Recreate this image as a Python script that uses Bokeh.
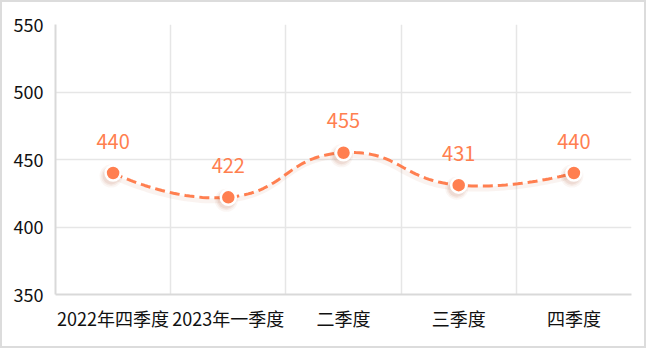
import numpy as np
from bokeh.plotting import figure
from bokeh.models import FixedTicker, ColumnDataSource, LabelSet
from bokeh.core.properties import value
from bokeh.embed import file_html
from bokeh.resources import INLINE

categories = ["2022年四季度", "2023年一季度", "二季度", "三季度", "四季度"]
values = [440, 422, 455, 431, 440]
y_ticks = [350, 400, 450, 500, 550]

COLOR = "#ff7f50"
FONT = "Noto Sans CJK SC"

W, H = 646, 348
p = figure(width=W, height=H, output_backend="svg", toolbar_location=None,
           x_range=(0, len(categories)), y_range=(350, 550),
           min_border_left=53, min_border_right=17, min_border_top=22, min_border_bottom=56,
           styles={"border": "2px solid #dcdcdc"})
p.outline_line_color = None

xs = [i + 0.5 for i in range(len(categories))]

# axes
p.xaxis.ticker = FixedTicker(ticks=xs)
p.xaxis.major_label_overrides = {x: c for x, c in zip(xs, categories)}
p.yaxis.ticker = FixedTicker(ticks=y_ticks)
for ax in (p.xaxis, p.yaxis):
    ax.major_tick_line_color = None
    ax.minor_tick_line_color = None
    ax.major_tick_out = 0
    ax.major_tick_in = 0
    ax.axis_line_color = "#d9d9d9"
    ax.axis_line_width = 2
    ax.major_label_text_font = FONT
    ax.major_label_text_font_size = "18px"
    ax.major_label_text_color = "#111111"
p.xaxis.major_label_standoff = 10
p.yaxis.major_label_standoff = 12

p.xgrid.ticker = FixedTicker(ticks=list(range(len(categories) + 1)))
p.ygrid.ticker = FixedTicker(ticks=y_ticks)
for g in (p.xgrid, p.ygrid):
    g.grid_line_color = "#e6e6e6"
    g.grid_line_width = 1.5

# smooth curve (ECharts-style bezier, smooth=0.5) computed in pixel space
px_per_x = 575.0 / len(categories)
px_per_y = 270.0 / 200.0
P = np.array([[x * px_per_x, v * px_per_y] for x, v in zip(xs, values)])
smooth = 0.5
curve = [P[0]]
cp0 = P[0].copy()
n = len(P)
for k in range(1, n):
    pt = P[k]
    prev = P[k - 1]
    if k >= n - 1:
        ncp0 = pt.copy()
        v = np.zeros(2)
        ratio = 0.5
    else:
        nxt = P[k + 1]
        v = nxt - prev
        l0 = np.linalg.norm(pt - prev)
        l1 = np.linalg.norm(nxt - pt)
        ratio = l1 / (l0 + l1)
        ncp0 = pt - v * smooth * (1 - ratio)
    t = np.linspace(0, 1, 40)[1:, None]
    seg = ((1 - t) ** 3) * prev + 3 * ((1 - t) ** 2) * t * cp0 + 3 * (1 - t) * t ** 2 * ncp0 + t ** 3 * pt
    curve.extend(seg)
    cp0 = pt + v * smooth * ratio
curve = np.array(curve)
cx = curve[:, 0] / px_per_x
cy = curve[:, 1] / px_per_y

# soft shadow of line
p.line(cx - 1.5 / px_per_x, cy - 3 / px_per_y, line_color="#c0603c", line_alpha=0.08, line_width=5)
p.line(cx, cy, line_color=COLOR, line_width=3, line_dash="10 5")

src = ColumnDataSource(dict(x=xs, y=values, label=[str(v) for v in values]))
# marker shadow
for s, a in ((23, 0.05), (20, 0.07), (17, 0.09)):
    p.scatter([x - 2 / px_per_x for x in xs], [v - 3 / px_per_y for v in values], size=s,
              fill_color="#b05030", fill_alpha=a, line_color=None)
p.scatter("x", "y", source=src, size=15, fill_color=COLOR, line_color="white", line_width=2.5)

labels = LabelSet(x="x", y="y", text="label", source=src, y_offset=32, text_align="center",
                  text_baseline="middle", text_color=COLOR, text_font=value(FONT),
                  text_font_size="20px")
p.add_layout(labels)

open("out.html", "w").write(file_html(p, INLINE))
